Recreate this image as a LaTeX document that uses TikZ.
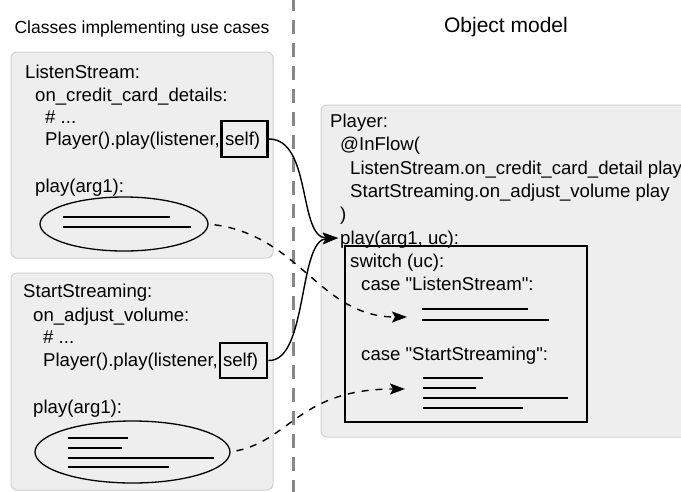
\documentclass[tikz,border=0pt]{standalone}
\usepackage{fontspec}
\setmainfont{Liberation Sans}[Ligatures=TeXOff]
\usetikzlibrary{arrows.meta,shapes.geometric}
\definecolor{panelfill}{HTML}{EEEEEE}
\definecolor{paneledge}{HTML}{D2D2D2}
\definecolor{divgray}{HTML}{888888}
\begin{document}
\begin{tikzpicture}[x=1pt,y=-1pt,
  font=\fontsize{18.6}{22}\selectfont,
  panel/.style={draw=paneledge, fill=panelfill, rounded corners=6pt, line width=1pt},
  code/.style={anchor=base west, inner sep=0pt},
  selfbox/.style={draw, line width=2.8pt, inner sep=0pt},
  blob/.style={ellipse, draw, line width=1.3pt, inner sep=0pt},
  stub/.style={line width=1.4pt},
  link/.style={line width=1.4pt, -{Stealth[length=15pt,width=11pt,inset=3pt]}},
  dlink/.style={link, dash pattern=on 7pt off 7pt},
  divider/.style={draw=divgray, line width=3pt, dash pattern=on 14pt off 9pt},
  heading/.style={anchor=base, inner sep=0pt}
]
\clip (0,0) rectangle (681,491);
\fill[white] (0,0) rectangle (681,491);

% headings
\node[heading, font=\fontsize{17.5}{20}\selectfont] (h1) at (142,33) {Classes implementing use cases};
\node[heading, font=\fontsize{21}{24}\selectfont] (h2) at (506,32) {Object model};

% divider
\draw[divider] (293,-3) -- (293,495);

% panels
\draw[panel] (11,52) rectangle (273,258);
\draw[panel] (11,273) rectangle (273,490);
\draw[panel] (321,105) rectangle (700,437);

% ListenStream panel
\node[code] (l1) at (25,78) {ListenStream:};
\node[code] (l2) at (35,101) {on\_credit\_card\_details:};
\node[code] (l3) at (45,123) {\# ...};
\node[code] (l4) at (45,145) {Player().play(listener, self)};
\node[code] (l5) at (35,192) {play(arg1):};
\node[selfbox, minimum width=46pt, minimum height=36pt] (s1) at (244.5,139) {};
\node[blob, minimum width=168pt, minimum height=54pt] (e1) at (124,224) {};
\draw[stub] (63,217) -- (170,217);
\draw[stub] (63,227) -- (191,227);

% StartStreaming panel
\node[code] (m1) at (23,297) {StartStreaming:};
\node[code] (m2) at (33,321) {on\_adjust\_volume:};
\node[code] (m3) at (43,343) {\# ...};
\node[code] (m4) at (43,366) {Player().play(listener, self)};
\node[code] (m5) at (33,413) {play(arg1):};
\node[selfbox, minimum width=47pt, minimum height=35pt] (s2) at (243.5,360.5) {};
\node[blob, minimum width=195pt, minimum height=62pt] (e2) at (132.5,452) {};
\draw[stub] (68,438) -- (128,438);
\draw[stub] (68,448) -- (122,448);
\draw[stub] (68,458) -- (214,458);
\draw[stub] (68,467) -- (169,467);

% Player panel
\node[code] (p1) at (330,127) {Player:};
\node[code] (p2) at (340,150.5) {@InFlow(};
\node[code] (p3) at (350,174) {ListenStream.on\_credit\_card\_detail play};
\node[code] (p4) at (350,197) {StartStreaming.on\_adjust\_volume play};
\node[code] (p5) at (340,220.5) {)};
\node[code] (p6) at (340,244) {play(arg1, uc):};
\node[draw, line width=2.8pt, inner sep=0pt, minimum width=242pt, minimum height=176pt] (sw) at (466,334) {};
\node[code] (w1) at (350,267) {switch (uc):};
\node[code] (w2) at (361,290) {case "ListenStream":};
\node[code] (w3) at (361,360) {case "StartStreaming":};
\draw[stub] (422,309) -- (528,309);
\draw[stub] (422,320) -- (549,320);
\draw[stub] (423,378) -- (483,378);
\draw[stub] (423,388) -- (476,388);
\draw[stub] (423,398) -- (568,398);
\draw[stub] (423,408) -- (523,408);

% connector targets
\coordinate (tplay) at (338,238);
\coordinate (tcase1) at (407,317);
\coordinate (tcase2) at (405,389);

% connectors
\draw[link] (s1.east) .. controls (312,139) and (298,238) .. (tplay);
\draw[link] (s2.east) .. controls (308,362) and (298,240) .. (tplay);
\draw[dlink, shorten <=6pt] (e1.east) .. controls (300,236) and (320,317) .. (tcase1);
\draw[dlink, shorten <=6pt] (e2.east) .. controls (290,440) and (300,389) .. (tcase2);
\end{tikzpicture}
\end{document}
